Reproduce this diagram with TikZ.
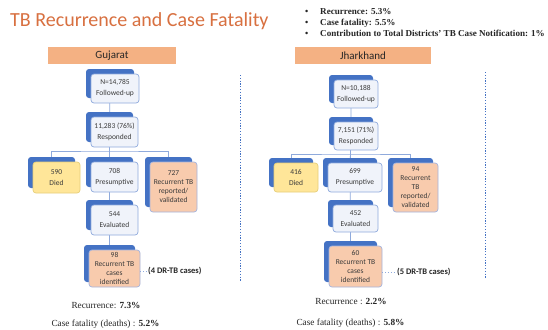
\documentclass[tikz,border=0pt]{standalone}
\usepackage{fontspec}
\setmainfont{Liberation Serif}
\newfontfamily\calf{Carlito}
\usetikzlibrary{calc,backgrounds}
\definecolor{bk}{HTML}{4472C4}
\definecolor{fb}{HTML}{8FAADC}
\definecolor{ff}{HTML}{F0F3FA}
\definecolor{yel}{HTML}{FFE699}
\definecolor{yelb}{HTML}{E6CF7A}
\definecolor{sal}{HTML}{F8CBAD}
\definecolor{salb}{HTML}{A4B4DE}
\definecolor{hdrc}{HTML}{F4B183}
\definecolor{titlec}{RGB}{216,112,64}
\definecolor{txt}{HTML}{3A3A3A}
\tikzset{
  backbox/.style={draw=none, fill=bk, rounded corners=3pt, inner sep=0pt, outer sep=0pt},
  frontbox/.style={draw=fb, line width=0.7pt, fill=ff, rounded corners=3pt, inner sep=0pt, align=center,
     font=\calf\fontsize{7.5}{9}\selectfont, text=txt},
  diedbox/.style={frontbox, fill=yel, draw=yelb},
  recbox/.style={frontbox, fill=sal, draw=salb},
  hdr/.style={fill=hdrc, minimum height=17pt, inner sep=0pt, font=\calf\fontsize{11}{13}\selectfont, text=black!85},
  conn/.style={draw=fb, line width=0.8pt},
  dotconn/.style={draw=fb, line width=0.8pt, dotted},
  divider/.style={draw=bk, line width=0.9pt, dash pattern=on 1.2pt off 1.6pt},
  drtext/.style={anchor=west, inner sep=1pt, font=\calf\bfseries\fontsize{8.5}{10}\selectfont, text=black!85},
  bottomtext/.style={anchor=base, inner sep=0pt, font=\fontsize{9.3}{11}\selectfont, text=black!85},
  bullettext/.style={anchor=base west, inner sep=0pt, font=\bfseries\fontsize{9.1}{11}\selectfont, text=black!85},
}
\newcommand\tbx[6]{%
  \node[backbox, minimum width=#4, minimum height=#5] (#1b) at ($(#3)+(-5,-5)$) {};
  \node[#2, minimum width=#4, minimum height=#5] (#1) at (#3) {#6};
}
\begin{document}
\begin{tikzpicture}[x=1pt,y=-1pt]
\useasboundingbox (0,0) rectangle (548,329);

% title and bullets
\node[anchor=base west, inner sep=0pt, font=\calf\fontsize{20}{24}\selectfont, text=titlec] (title) at (10,27) {TB Recurrence and Case Fatality};
\node[bullettext] (b1d) at (305,15) {\textbullet};
\node[bullettext] (b1) at (320,15) {Recurrence: 5.3\%};
\node[bullettext] (b2d) at (305,26) {\textbullet};
\node[bullettext] (b2) at (320,26) {Case fatality: 5.5\%};
\node[bullettext] (b3d) at (305,36.5) {\textbullet};
\node[bullettext] (b3) at (320,36.5) {Contribution to Total Districts’ TB Case Notification: 1\%};

% headers
\node[hdr, minimum width=128] (gH) at (112,55.5) {Gujarat};
\node[hdr, minimum width=136] (jH) at (363,55.5) {Jharkhand};

% dividers
\coordinate (d1a) at (240,75); \coordinate (d1b) at (240,282);
\coordinate (d2a) at (485,72); \coordinate (d2b) at (485,278);
\draw[divider] (d1a) -- (d1b);
\draw[divider] (d2a) -- (d2b);

% Gujarat tree
\tbx{gA}{frontbox}{115,88.5}{48}{29}{N=14,785\\[2pt]Followed-up}
\tbx{gB}{frontbox}{114.5,132}{47}{30}{11,283 (76\%)\\[2pt]Responded}
\tbx{gDied}{diedbox}{56.5,177.5}{47}{31}{590\\[2pt]Died}
\tbx{gPres}{frontbox}{114.5,177}{47}{30}{708\\[2pt]Presumptive}
\tbx{gRec}{recbox}{173.5,187}{47}{50}{727\\Recurrent TB\\reported/\\validated}
\tbx{gEval}{frontbox}{114.5,220}{47}{30}{544\\[2pt]Evaluated}
\tbx{gId}{recbox}{114.5,268.5}{51}{37}{98\\Recurrent TB\\cases\\identified}
\node[drtext] (gDR) at (147,271) {(4 DR-TB cases)};

% Jharkhand tree
\tbx{jA}{frontbox}{356,94}{44}{28}{N=10,188\\[2pt]Followed-up}
\tbx{jB}{frontbox}{356,136}{44}{28}{7,151 (71\%)\\[2pt]Responded}
\tbx{jDied}{diedbox}{296,177.5}{44}{29}{416\\[2pt]Died}
\tbx{jPres}{frontbox}{355,177.5}{54}{29}{699\\[2pt]Presumptive}
\tbx{jRec}{recbox}{415.5,187.5}{45}{49}{94\\Recurrent\\TB\\reported/\\validated}
\tbx{jEval}{frontbox}{355.5,218.5}{45}{27}{452\\[2pt]Evaluated}
\tbx{jId}{recbox}{355.5,266.5}{53}{41}{60\\Recurrent TB\\cases\\identified}
\node[drtext] (jDR) at (396,272) {(5 DR-TB cases)};

% connectors
\begin{scope}[on background layer]
\fill[white] (0,0) rectangle (548,329);
\coordinate (gj) at ($(gBb.center)+(0,24)$);
\draw[conn] (gAb.center) -- (gBb.center) -- (gPresb.center) -- (gEvalb.center) -- (gIdb.center);
\draw[conn] (gDiedb.center) |- (gj) -| (gRecb.center);
\coordinate (jj) at ($(jBb.center)+(0,23)$);
\draw[conn] (jAb.center) -- (jBb.center) -- (jPresb.center) -- (jEvalb.center) -- (jIdb.center);
\draw[conn] (jDiedb.center) |- (jj) -| (jRecb.center);
\end{scope}
\draw[dotconn] (gId.east |- gDR.west) -- (gDR.west);
\draw[dotconn] (jId.east |- jDR.west) -- (jDR.west);

% bottom texts
\node[bottomtext] (gR) at (106,308) {Recurrence: \textbf{7.3\%}};
\node[bottomtext] (gF) at (105.5,326.5) {Case fatality (deaths) : \textbf{5.2\%}};
\node[bottomtext] (jR) at (351,304) {Recurrence : \textbf{2.2\%}};
\node[bottomtext] (jF) at (350.5,325) {Case fatality (deaths) : \textbf{5.8\%}};
\end{tikzpicture}
\end{document}
